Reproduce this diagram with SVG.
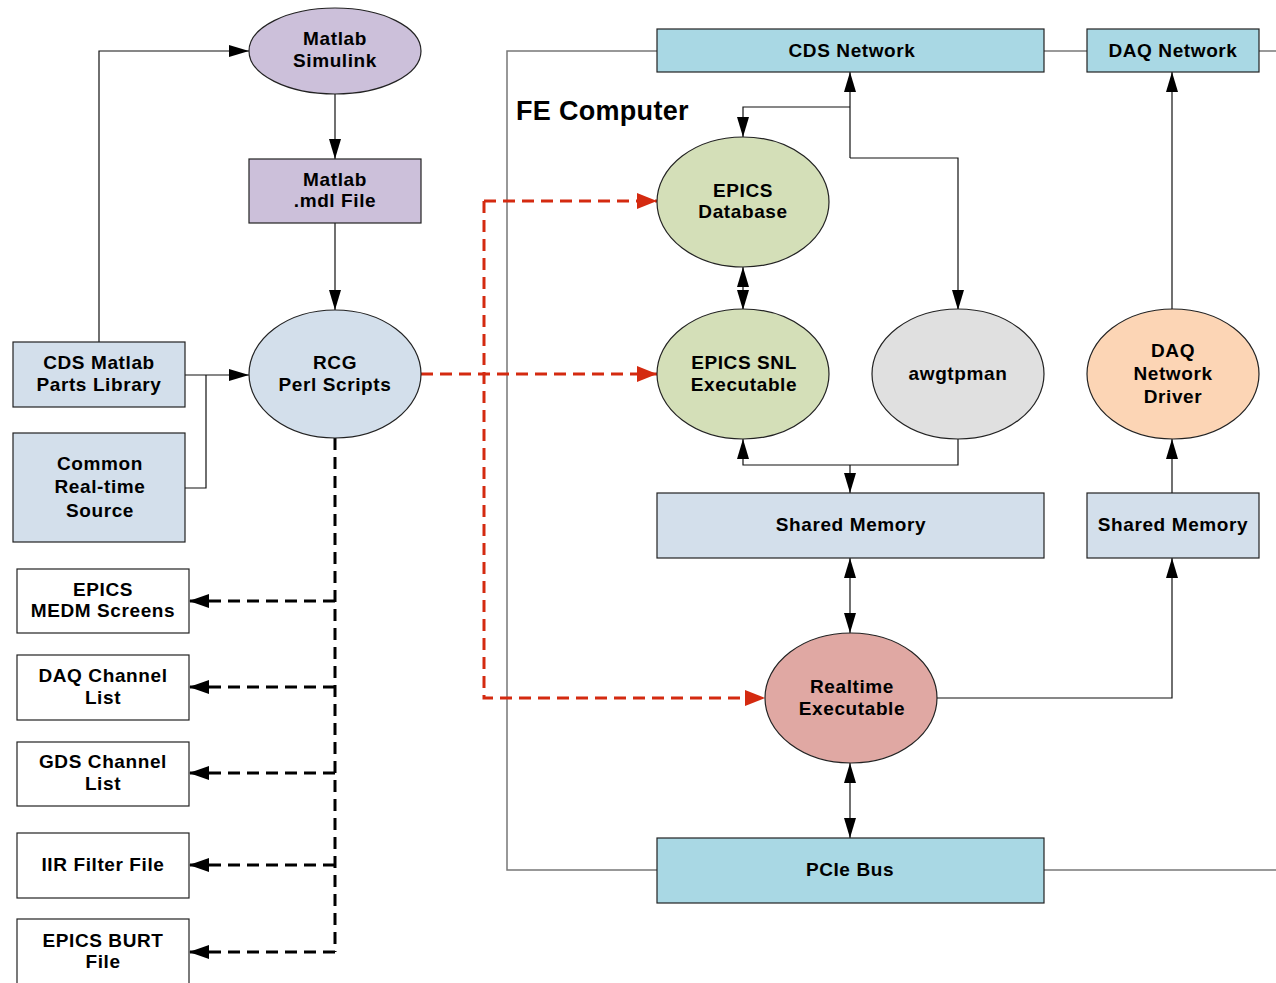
<svg xmlns="http://www.w3.org/2000/svg" width="1276" height="983" viewBox="0 0 1276 983">
<style>
text{font-family:"Liberation Sans",Arial,sans-serif;font-weight:bold;font-size:19px;letter-spacing:0.6px;fill:#000;text-anchor:middle}
.n{stroke:#222;stroke-width:1.2}
.purple{fill:#ccc0da}
.lblue{fill:#d3dfeb}
.cyan{fill:#a9d8e4}
.green{fill:#d4dfb8}
.gray{fill:#e0e0e0}
.peach{fill:#fcd5b5}
.pink{fill:#e0a8a3}
.white{fill:#fff}
.c{fill:none;stroke:#111;stroke-width:1.2}
.f{fill:none;stroke:#777;stroke-width:1.5}
.bd{fill:none;stroke:#000;stroke-width:3;stroke-dasharray:12 7}
.rd{fill:none;stroke:#d42a10;stroke-width:3;stroke-dasharray:12 7}
</style>
<defs>
<marker id="a" markerUnits="userSpaceOnUse" markerWidth="20" markerHeight="12" viewBox="0 0 20 12" refX="20" refY="6" orient="auto-start-reverse"><path d="M0,0 L20,6 L0,12 z" fill="#000"/></marker>
<marker id="ab" markerUnits="userSpaceOnUse" markerWidth="20" markerHeight="14" viewBox="0 0 20 14" refX="20" refY="7" orient="auto"><path d="M0,0 L20,7 L0,14 z" fill="#000"/></marker>
<marker id="ar" markerUnits="userSpaceOnUse" markerWidth="20" markerHeight="16" viewBox="0 0 20 16" refX="20" refY="8" orient="auto"><path d="M0,0 L20,8 L0,16 z" fill="#d42a10"/></marker>
</defs>

<g id="connectors">
<path class="f" d="M657,51 H507 V870 H657"/>
<path class="f" d="M1044,51 H1087"/>
<path class="f" d="M1259,51 H1276"/>
<path class="f" d="M1044,870 H1276"/>
<path class="c" d="M99,342 V51 H249" marker-end="url(#a)"/>
<path class="c" d="M335,94 V159" marker-end="url(#a)"/>
<path class="c" d="M335,223 V310" marker-end="url(#a)"/>
<path class="c" d="M185,375 H249" marker-end="url(#a)"/>
<path class="c" d="M185,488 H206 V375"/>
<path class="bd" d="M335,438 V952"/>
<path class="bd" d="M335,601 H189" marker-end="url(#ab)"/>
<path class="bd" d="M335,687 H189" marker-end="url(#ab)"/>
<path class="bd" d="M335,773 H189" marker-end="url(#ab)"/>
<path class="bd" d="M335,865 H189" marker-end="url(#ab)"/>
<path class="bd" d="M335,952 H189" marker-end="url(#ab)"/>
<path class="rd" d="M421,374 H657" marker-end="url(#ar)"/>
<path class="rd" d="M484,201 V698 H765" marker-end="url(#ar)"/>
<path class="rd" d="M484,201 H657" marker-end="url(#ar)"/>
<path class="c" d="M850,158 V72" marker-end="url(#a)"/>
<path class="c" d="M850,107 H743 V137" marker-end="url(#a)"/>
<path class="c" d="M850,158 H958 V310" marker-end="url(#a)"/>
<path class="c" d="M743,267 V310" marker-start="url(#a)" marker-end="url(#a)"/>
<path class="c" d="M958,439 V465 H743 V439" marker-end="url(#a)"/>
<path class="c" d="M850,465 V493" marker-end="url(#a)"/>
<path class="c" d="M850,558 V633" marker-start="url(#a)" marker-end="url(#a)"/>
<path class="c" d="M850,763 V838" marker-start="url(#a)" marker-end="url(#a)"/>
<path class="c" d="M937,698 H1172 V558" marker-end="url(#a)"/>
<path class="c" d="M1172,493 V439" marker-end="url(#a)"/>
<path class="c" d="M1172,310 V72" marker-end="url(#a)"/>
</g>

<g id="matlab-simulink"><ellipse class="n purple" cx="335" cy="51" rx="86" ry="43"/><text x="335" y="45">Matlab</text><text x="335" y="67">Simulink</text></g>
<g id="matlab-mdl"><rect class="n purple" x="249" y="159" width="172" height="64"/><text x="335" y="186">Matlab</text><text x="335" y="207">.mdl File</text></g>
<g id="rcg"><ellipse class="n lblue" cx="335" cy="374" rx="86" ry="64"/><text x="335" y="369">RCG</text><text x="335" y="391">Perl Scripts</text></g>
<g id="cds-matlab"><rect class="n lblue" x="13" y="342" width="172" height="65"/><text x="99" y="369">CDS Matlab</text><text x="99" y="391">Parts Library</text></g>
<g id="common-rt"><rect class="n lblue" x="13" y="433" width="172" height="109"/><text x="100" y="470">Common</text><text x="100" y="493">Real-time</text><text x="100" y="517">Source</text></g>
<g id="medm"><rect class="n white" x="17" y="569" width="172" height="64"/><text x="103" y="596">EPICS</text><text x="103" y="617">MEDM Screens</text></g>
<g id="daq-list"><rect class="n white" x="17" y="655" width="172" height="65"/><text x="103" y="682">DAQ Channel</text><text x="103" y="704">List</text></g>
<g id="gds-list"><rect class="n white" x="17" y="742" width="172" height="64"/><text x="103" y="768">GDS Channel</text><text x="103" y="790">List</text></g>
<g id="iir"><rect class="n white" x="17" y="833" width="172" height="65"/><text x="103" y="871">IIR Filter File</text></g>
<g id="burt"><rect class="n white" x="17" y="919" width="172" height="70"/><text x="103" y="947">EPICS BURT</text><text x="103" y="968">File</text></g>

<g id="fe-label"><text x="516" y="120" style="text-anchor:start;font-size:27px;letter-spacing:0.3px">FE Computer</text></g>
<g id="cds-network"><rect class="n cyan" x="657" y="29" width="387" height="43"/><text x="852" y="57">CDS Network</text></g>
<g id="daq-network"><rect class="n cyan" x="1087" y="29" width="172" height="43"/><text x="1173" y="57">DAQ Network</text></g>
<g id="epics-db"><ellipse class="n green" cx="743" cy="202" rx="86" ry="65"/><text x="743" y="197">EPICS</text><text x="743" y="218">Database</text></g>
<g id="epics-snl"><ellipse class="n green" cx="743" cy="374" rx="86" ry="65"/><text x="744" y="369">EPICS SNL</text><text x="744" y="391">Executable</text></g>
<g id="awgtpman"><ellipse class="n gray" cx="958" cy="374" rx="86" ry="65"/><text x="958" y="380">awgtpman</text></g>
<g id="daq-driver"><ellipse class="n peach" cx="1173" cy="374" rx="86" ry="65"/><text x="1173" y="357">DAQ</text><text x="1173" y="380">Network</text><text x="1173" y="403">Driver</text></g>
<g id="shm-left"><rect class="n lblue" x="657" y="493" width="387" height="65"/><text x="851" y="531">Shared Memory</text></g>
<g id="shm-right"><rect class="n lblue" x="1087" y="493" width="172" height="65"/><text x="1173" y="531">Shared Memory</text></g>
<g id="realtime"><ellipse class="n pink" cx="851" cy="698" rx="86" ry="65"/><text x="852" y="693">Realtime</text><text x="852" y="715">Executable</text></g>
<g id="pcie"><rect class="n cyan" x="657" y="838" width="387" height="65"/><text x="850" y="876">PCIe Bus</text></g>
</svg>
